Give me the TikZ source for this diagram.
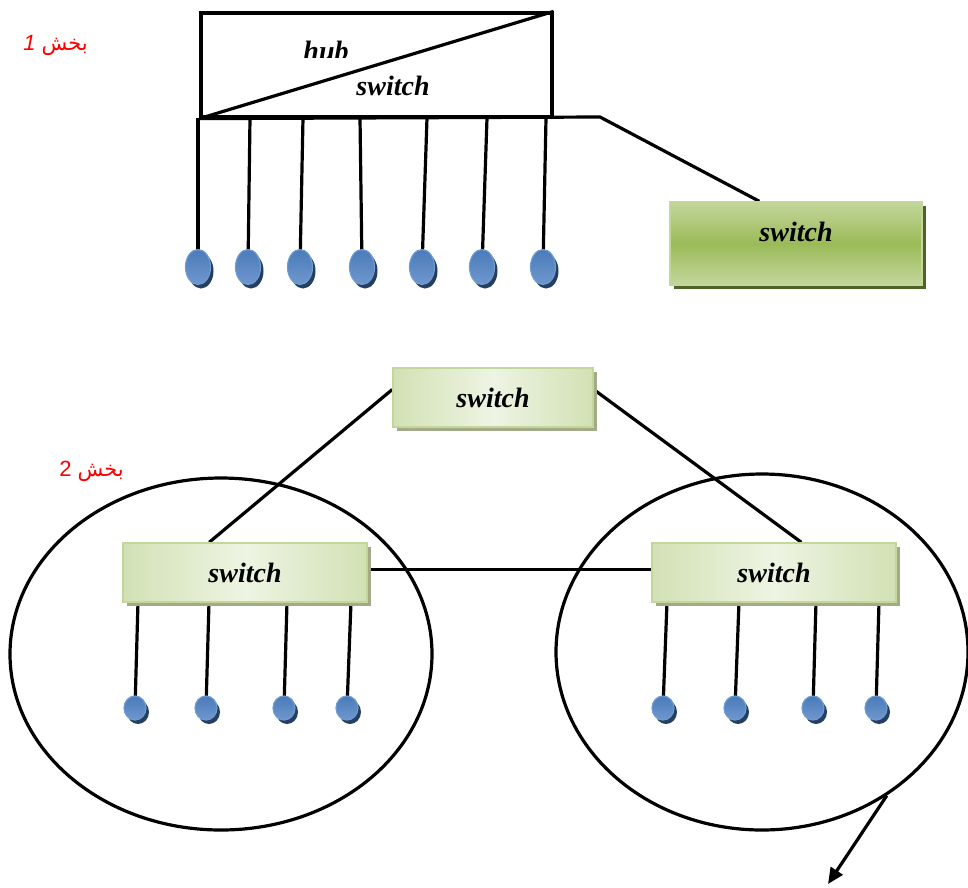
\documentclass[tikz,border=0pt]{standalone}
\usepackage{fontspec}
\setmainfont{Liberation Serif}
\newfontfamily\arabicfont[Script=Arabic]{DejaVu Sans}
\newfontfamily\lsans{Liberation Sans}
\TeXXeTstate=1
\usetikzlibrary{shapes.geometric,shadows,arrows.meta,calc}
\pgfdeclarelayer{background}
\pgfsetlayers{background,main}
\definecolor{gA}{HTML}{C3D69B}
\definecolor{gB}{HTML}{9BBB59}
\definecolor{gDark}{HTML}{4F6228}
\definecolor{pA}{HTML}{D2E1B4}
\definecolor{pB}{HTML}{EEF4E3}
\definecolor{pEdge}{HTML}{C3D69B}
\definecolor{pDark}{HTML}{A3AA88}
\definecolor{bA}{HTML}{4A7BB9}
\definecolor{bB}{HTML}{6F97CE}
\definecolor{bEdge}{HTML}{6E9BD2}
\definecolor{bDark}{HTML}{243F60}
\tikzset{
  wire/.style={line width=3.2pt, draw=black},
  lbl/.style={font=\fontsize{28}{30}\selectfont\bfseries\itshape},
  greenbox/.style={rectangle, draw=gB!60!white, line width=1.5pt, inner sep=0,
    top color=gA, bottom color=gA, middle color=gB, lbl,
    drop shadow={shadow xshift=4pt, shadow yshift=-4pt, fill=gDark, opacity=1}},
  palebox/.style={rectangle, draw=pEdge, line width=1.5pt, inner sep=0,
    left color=pA, right color=pA, middle color=pB, lbl,
    drop shadow={shadow xshift=4pt, shadow yshift=-4pt, fill=pDark, opacity=1}},
  ball/.style={ellipse, draw=bEdge, line width=1.2pt, inner sep=0,
    top color=bA, bottom color=bB, minimum width=25pt, minimum height=35pt,
    drop shadow={shadow xshift=3pt, shadow yshift=-4pt, fill=bDark, opacity=1}},
  smallball/.style={ball, minimum width=22pt, minimum height=24pt},
  redlbl/.style={text=red, inner sep=0, anchor=east},
  ring/.style={ellipse, draw=black, line width=3.2pt, inner sep=0}
}
\begin{document}
\begin{tikzpicture}[x=1pt,y=-1pt]
\useasboundingbox (0,0) rectangle (968,887);

% labels
\node[redlbl] (L1) at (88,45) {\lsans\fontsize{22}{24}\selectfont\beginR{\arabicfont\fontsize{21}{24}\selectfont بخش} {\itshape 1}\endR};
\node[redlbl] (L2) at (124,471) {\lsans\fontsize{22}{24}\selectfont\beginR{\arabicfont\fontsize{21}{24}\selectfont بخش} 2\endR};

% hub / switch box
\node[draw, line width=3.2pt, minimum width=351pt, minimum height=104pt, inner sep=0] (hub) at (376.5,65) {};
\draw[wire] (hub.south west) -- (hub.north east);
\begin{scope}
  \clip (205,15) rectangle (550,57);
  \node[lbl, anchor=base, inner sep=0] (hubtxt) at (326,60) {hub};
\end{scope}
\node[lbl, anchor=base, inner sep=0] (swtxt) at (393,95) {switch};

% switches
\node[greenbox, minimum width=252pt, minimum height=83pt, text depth=23pt] (sw1) at (796,243.5) {switch};
\node[palebox, minimum width=200pt, minimum height=59pt] (sw2) at (493,397.5) {switch};
\node[palebox, minimum width=244pt, minimum height=59pt] (sw3) at (245,572.5) {switch};
\node[palebox, minimum width=244pt, minimum height=59pt] (sw4) at (774,572.5) {switch};

% top stations
\foreach \i/\tx/\bx in {1/198/198, 2/250/248, 3/303/300, 4/360/362, 5/427/422, 6/487/482, 7/546/543} {
  \coordinate (h\i) at (\tx,118);
  \node[ball] (b\i) at (\bx,267) {};
}
% lower stations
\foreach \i/\tx/\bx in {1/138/135, 2/209/206, 3/287/284, 4/351/347} {
  \coordinate (l\i) at (\tx,602);
  \node[smallball] (c\i) at (\bx,708) {};
}
\foreach \i/\tx/\bx in {1/667/663, 2/739/735, 3/816/813, 4/879/876} {
  \coordinate (r\i) at (\tx,602);
  \node[smallball] (d\i) at (\bx,708) {};
}

\coordinate (p) at (600,117);
\coordinate (tip) at (828,884);

\begin{pgfonlayer}{background}
  \foreach \i in {1,...,7} { \draw[wire] (h\i) -- (b\i.center); }
  \foreach \i in {1,...,4} {
    \draw[wire] (l\i) -- (c\i.center);
    \draw[wire] (r\i) -- (d\i.center);
  }
  \draw[wire] (hub.south west) -- (p) -- ([xshift=90pt]sw1.north west);
  \draw[wire] ([yshift=8pt]sw2.west) -- ([xshift=87pt]sw3.north west);
  \draw[wire] ([yshift=8pt]sw2.east) -- ([xshift=150pt]sw4.north west);
  \draw[wire] ([yshift=3pt]sw3.east) -- ([yshift=3pt]sw4.west);
  \node[ring, minimum width=422pt, minimum height=352pt] (e1) at (221,654) {};
  \node[ring, minimum width=412pt, minimum height=356pt] (e2) at (762,652) {};
\end{pgfonlayer}
\draw[wire, -{Triangle[length=16pt,width=14pt]}] (e2.-49) -- (tip);
\end{tikzpicture}
\end{document}
